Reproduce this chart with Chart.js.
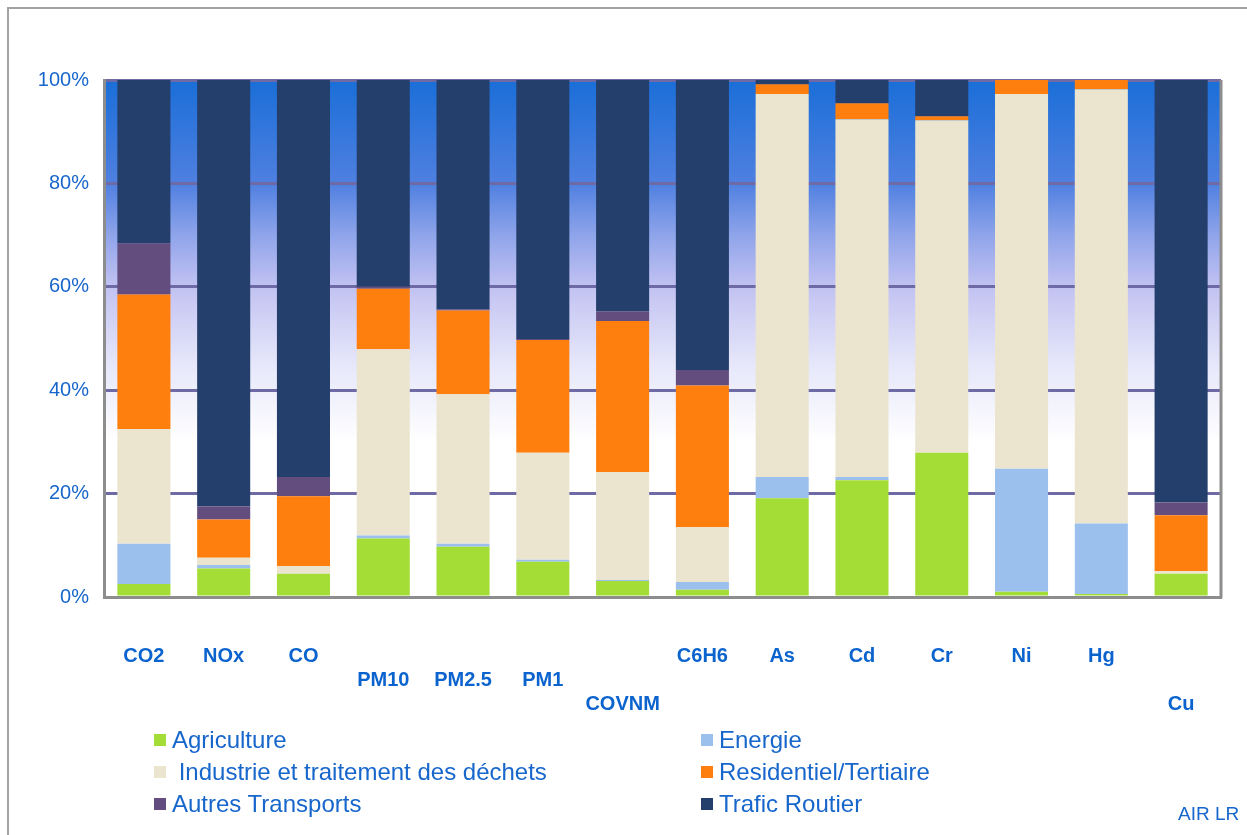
<!DOCTYPE html>
<html>
<head>
<meta charset="utf-8">
<script src="https://cdn.jsdelivr.net/npm/chart.js@4.4.1/dist/chart.umd.min.js"></script>
<style>
  html, body { margin: 0; padding: 0; background: #ffffff; overflow: hidden; width: 1247px; height: 835px; }
  #frame { position: absolute; left: 7px; top: 7px; width: 1400px; height: 1000px; border: 2px solid #a3a3a3; box-sizing: border-box; }
  #c { position: absolute; left: 0; top: 0; }
  .leg { position: absolute; font-family: "Liberation Sans", Arial, sans-serif; font-size: 24px; color: #1766cc; line-height: 26px; white-space: pre; }
  .sw { position: absolute; width: 12px; height: 12px; }
  #src { position: absolute; left: 1178px; top: 803px; font-family: "Liberation Sans", Arial, sans-serif; font-size: 19px; color: #1766cc; }
</style>
</head>
<body>
<div id="frame"></div>
<canvas id="c" width="1247" height="835"></canvas>
<div id="legend"></div>
<div id="src">AIR LR</div>
<script>
// ---- Data (percent shares per pollutant) ----
const categories = [
  ['CO2'], ['NOx'], ['CO'], ['', 'PM10'], ['', 'PM2.5'], ['', 'PM1'], ['', '', 'COVNM'],
  ['C6H6'], ['As'], ['Cd'], ['Cr'], ['Ni'], ['Hg'], ['', '', 'Cu']
];
const agriculture  = [2.5, 5.5, 4.5, 11.3, 9.7, 6.8, 3.1, 1.4, 19.1, 22.6, 27.9, 1.0, 0.6, 4.5];
const energie      = [7.8, 0.7, 0.0, 0.6, 0.6, 0.4, 0.2, 1.5, 4.1, 0.6, 0.0, 23.8, 13.6, 0.0];
const industrie    = [22.2, 1.4, 1.5, 36.0, 28.9, 20.7, 20.9, 10.6, 74.1, 69.2, 64.3, 72.5, 84.0, 0.5];
const residentiel  = [26.0, 7.4, 13.5, 11.7, 16.2, 21.8, 29.2, 27.4, 1.9, 3.1, 0.8, 2.7, 1.8, 10.8];
const autresTransp = [9.9, 2.5, 3.7, 0.4, 0.2, 0.2, 1.8, 3.0, 0.0, 0.0, 0.0, 0.0, 0.0, 2.5];
const traficRoutier= [31.6, 82.5, 76.8, 40.0, 44.4, 50.1, 44.8, 56.1, 0.8, 4.5, 7.0, 0.0, 0.0, 81.7];
const yTicks = [0, 20, 40, 60, 80, 100];

const seriesNames = ['Agriculture', 'Energie', ' Industrie et traitement des déchets', 'Residentiel/Tertiaire', 'Autres Transports', 'Trafic Routier'];
const seriesData = [agriculture, energie, industrie, residentiel, autresTransp, traficRoutier];
const seriesColors = ['#a3dd35', '#9cc0ee', '#ebe5cf', '#ff7f0e', '#634c7e', '#243f6b'];

const datasets = seriesNames.map((n, i) => ({
  label: n,
  data: seriesData[i],
  backgroundColor: seriesColors[i],
  borderWidth: 0,
  barPercentage: 0.665,
  categoryPercentage: 1.0
}));

const bgPlugin = {
  id: 'plotBg',
  beforeDraw(chart) {
    const { ctx, chartArea: a } = chart;
    const g = ctx.createLinearGradient(0, a.top, 0, a.bottom);
    g.addColorStop(0.0, '#1a6ed8');
    g.addColorStop(0.2, '#4f80e0');
    g.addColorStop(0.3, '#8fa4ea');
    g.addColorStop(0.4, '#c2c2f2');
    g.addColorStop(0.55, '#e6e7fa');
    g.addColorStop(0.7, '#ffffff');
    g.addColorStop(1.0, '#ffffff');
    ctx.save();
    ctx.fillStyle = g;
    ctx.fillRect(a.left, a.top, a.right - a.left, a.bottom - a.top);
    ctx.restore();
  },
  afterDraw(chart) {
    const { ctx, chartArea: a } = chart;
    ctx.save();
    ctx.strokeStyle = '#8d8d8d';
    ctx.lineWidth = 3;
    ctx.beginPath();
    ctx.moveTo(a.right, a.top);
    ctx.lineTo(a.right, a.bottom + 1);
    ctx.stroke();
    ctx.restore();
  }
};

new Chart(document.getElementById('c'), {
  type: 'bar',
  data: { labels: categories, datasets },
  plugins: [bgPlugin],
  options: {
    responsive: false,
    animation: false,
    devicePixelRatio: 1,
    layout: { padding: { left: 0, right: 26, top: 80, bottom: 0 } },
    plugins: { legend: { display: false }, tooltip: { enabled: false } },
    scales: {
      x: {
        stacked: true,
        grid: { display: false, drawTicks: false },
        border: { display: true, color: '#8d8d8d', width: 3 },
        ticks: {
          autoSkip: false, maxRotation: 0, minRotation: 0, padding: 47,
          color: '#0b63ce',
          font: { family: '"Liberation Sans", Arial, sans-serif', size: 20, weight: 'bold', lineHeight: 1.2 }
        },
        afterFit(scale) { scale.height = 238; }
      },
      y: {
        stacked: true,
        min: 0, max: 100,
        afterBuildTicks(scale) { scale.ticks = yTicks.map(v => ({ value: v })); },
        grid: { color: '#6e6aa6', lineWidth: 3, drawTicks: false },
        border: { display: true, color: '#8d8d8d', width: 3 },
        ticks: {
          padding: 15,
          color: '#1766cc',
          font: { family: '"Liberation Sans", Arial, sans-serif', size: 20 },
          callback: v => v + '%'
        },
        afterFit(scale) { scale.width = 104; }
      }
    }
  }
});

// HTML legend (two columns, three rows)
const legend = document.getElementById('legend');
const colX = [154, 701];
const rowY = [740, 772, 804];
const order = [[0, 1], [2, 3], [4, 5]];
order.forEach((pair, r) => {
  pair.forEach((si, c) => {
    const sw = document.createElement('div');
    sw.className = 'sw';
    sw.style.left = colX[c] + 'px';
    sw.style.top = (rowY[r] - 6) + 'px';
    sw.style.background = seriesColors[si];
    legend.appendChild(sw);
    const t = document.createElement('div');
    t.className = 'leg';
    t.style.left = (colX[c] + 18) + 'px';
    t.style.top = (rowY[r] - 13) + 'px';
    t.textContent = seriesNames[si];
    legend.appendChild(t);
  });
});
</script>
</body>
</html>
